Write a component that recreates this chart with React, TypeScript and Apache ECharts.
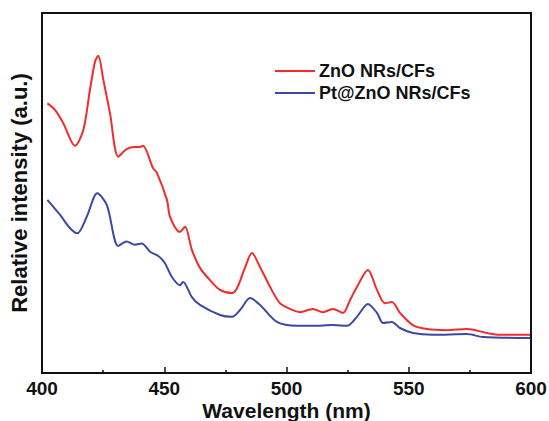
import React, { useEffect, useRef } from "react";
import * as echarts from "echarts";

const wavelengthsRed = [402.2, 405.3, 408.7, 413.5, 416.9, 419.6, 421.7, 423.0, 425.1, 427.8, 431.2, 434.6, 438.0, 440.1, 441.3, 445.4, 447.0, 451.1, 452.4, 456.4, 458.5, 461.3, 464.6, 468.7, 472.8, 477.7, 479.8, 483.0, 485.9, 489.2, 493.3, 497.3, 501.4, 505.5, 510.8, 514.9, 519.0, 523.1, 526.0, 528.8, 533.3, 537.0, 540.3, 543.1, 546.4, 551.7, 557.5, 565.6, 573.8, 582.0, 587.3, 599.6];
const intensityRed = [74.9, 73.1, 69.4, 63.1, 67.5, 78.6, 86.5, 88.1, 81.4, 72.2, 60.1, 62.2, 62.8, 62.8, 63.1, 56.9, 55.6, 48.1, 43.3, 39.2, 40.6, 34.2, 29.2, 25.8, 23.1, 22.2, 23.6, 29.2, 33.3, 29.4, 23.9, 19.4, 17.8, 16.9, 17.8, 16.9, 17.8, 16.7, 20.3, 23.9, 28.6, 23.1, 19.4, 19.7, 16.7, 13.3, 12.2, 11.9, 12.2, 11.1, 10.6, 10.6];

const wavelengthsBlue = [402.2, 407.4, 411.5, 414.4, 418.3, 422.6, 426.5, 431.2, 434.6, 438.0, 440.8, 444.2, 447.6, 450.3, 453.0, 456.4, 457.7, 461.3, 464.6, 472.8, 477.7, 481.0, 485.1, 489.2, 496.1, 504.3, 510.8, 519.0, 524.7, 528.8, 533.3, 537.0, 539.5, 543.1, 546.4, 551.7, 559.9, 573.8, 580.4, 599.6];
const intensityBlue = [48.1, 43.9, 40.2, 38.8, 43.4, 49.9, 46.7, 35.3, 36.5, 35.6, 36.0, 33.7, 32.5, 30.5, 26.8, 24.4, 25.3, 21.1, 18.9, 16.1, 15.6, 17.5, 20.8, 18.9, 14.2, 13.1, 13.1, 13.3, 13.1, 15.6, 19.2, 16.7, 13.9, 14.2, 12.5, 11.1, 10.6, 10.8, 10.0, 9.7];

const seriesNames = ["ZnO NRs/CFs", "Pt@ZnO NRs/CFs"];
const xTicks = [400, 450, 500, 550, 600];

const FONT = "'Liberation Sans', Arial, sans-serif";

export default function App() {
  const ref = useRef<HTMLDivElement>(null);
  useEffect(() => {
    if (!ref.current) return;
    const chart = echarts.init(ref.current, undefined, { renderer: "svg" });
    const red = wavelengthsRed.map((w, i) => [w, intensityRed[i]]);
    const blue = wavelengthsBlue.map((w, i) => [w, intensityBlue[i]]);
    chart.setOption({
      animation: false,
      backgroundColor: "#fff",
      grid: {
        left: 42,
        right: 18,
        top: 13,
        bottom: 48,
        outerBoundsMode: "none",
        containLabel: false,
        show: true,
        borderColor: "#111",
        borderWidth: 2,
      },
      legend: {
        orient: "vertical",
        left: 275,
        top: 62,
        padding: 0,
        itemWidth: 40,
        itemHeight: 2,
        itemGap: 4,
        icon: "rect",
        textStyle: { fontFamily: FONT, fontWeight: "bold", fontSize: 18, color: "#111", padding: [0, 0, 0, -1] },
        data: seriesNames,
      },
      xAxis: {
        type: "value",
        min: xTicks[0],
        max: xTicks[xTicks.length - 1],
        interval: 50,
        name: "Wavelength (nm)",
        nameLocation: "middle",
        nameGap: 27,
        nameMoveOverlap: false,
        nameTextStyle: { fontFamily: FONT, fontWeight: "bold", fontSize: 21, color: "#111", verticalAlign: "top", lineHeight: 20 },
        axisLine: { lineStyle: { color: "#111", width: 2 } },
        axisTick: { inside: true, length: 6, lineStyle: { color: "#111", width: 1.5 } },
        minorTick: { show: true, splitNumber: 2, length: 3, lineStyle: { color: "#111", width: 1.5 } },
        axisLabel: { fontFamily: FONT, fontWeight: "bold", fontSize: 19, color: "#111", margin: 7, lineHeight: 16 },
        splitLine: { show: false },
      },
      yAxis: {
        type: "value",
        min: 0,
        max: 100,
        name: "Relative intensity (a.u.)",
        nameLocation: "middle",
        nameGap: 12,
        nameMoveOverlap: false,
        nameTextStyle: { fontFamily: FONT, fontWeight: "bold", fontSize: 22, color: "#111" },
        axisLine: { show: true, lineStyle: { color: "#111", width: 2 } },
        axisTick: { show: false },
        axisLabel: { show: false },
        splitLine: { show: false },
      },
      series: [
        {
          name: seriesNames[0],
          type: "line",
          data: red,
          showSymbol: false,
          smooth: 0.3,
          lineStyle: { color: "#f22b2b", width: 2 },
          itemStyle: { color: "#f22b2b" },
        },
        {
          name: seriesNames[1],
          type: "line",
          data: blue,
          showSymbol: false,
          smooth: 0.3,
          lineStyle: { color: "#3a4aa2", width: 2 },
          itemStyle: { color: "#3a4aa2" },
        },
      ],
    });
    return () => chart.dispose();
  }, []);
  return <div ref={ref} style={{ width: 549, height: 421, position: "absolute", left: 0, top: 0 }} />;
}
